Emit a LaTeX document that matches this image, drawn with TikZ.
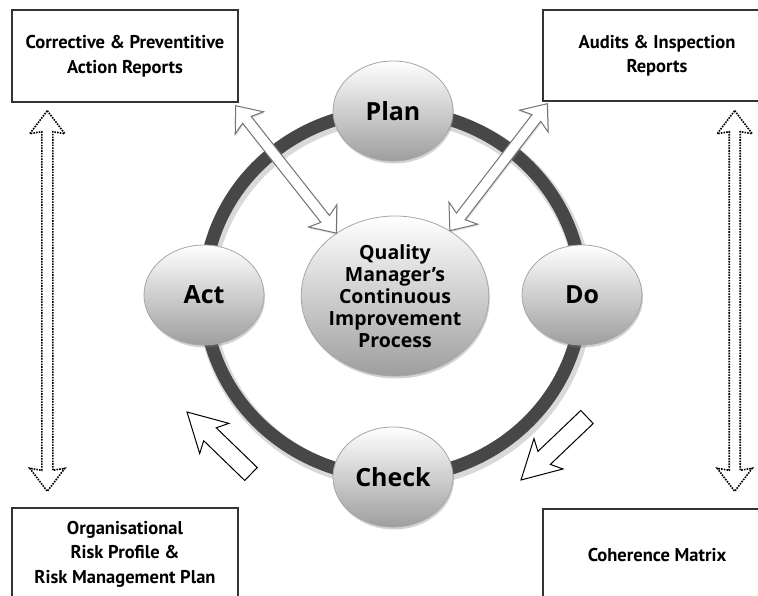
\documentclass[tikz,border=0pt]{standalone}
\usepackage{fontspec}
\setmainfont{Open Sans}
\newfontfamily\reportfont{PT Sans}
\usetikzlibrary{shapes.geometric, shadows, calc}

% hollow block arrows: style, end a, end b, shaft half, head half, head length, neck
\newcommand{\dblarrow}[7]{%
  \draw[#1] (#2) -- ($(#2)!#6!(#3)!#5!90:(#3)$) -- ($(#2)!#7!(#3)!#4!90:(#3)$)
    -- ($(#3)!#7!(#2)!#4!-90:(#2)$) -- ($(#3)!#6!(#2)!#5!-90:(#2)$) -- (#3)
    -- ($(#3)!#6!(#2)!#5!90:(#2)$) -- ($(#3)!#7!(#2)!#4!90:(#2)$)
    -- ($(#2)!#7!(#3)!#4!-90:(#3)$) -- ($(#2)!#6!(#3)!#5!-90:(#3)$) -- cycle;}
% style, tail, tip, shaft half, head half, head length, neck
\newcommand{\onearrow}[7]{%
  \draw[#1] (#3) -- ($(#3)!#6!(#2)!#5!90:(#2)$) -- ($(#3)!#7!(#2)!#4!90:(#2)$)
    -- ($(#2)!#4!-90:(#3)$) -- ($(#2)!#4!90:(#3)$)
    -- ($(#3)!#7!(#2)!#4!-90:(#2)$) -- ($(#3)!#6!(#2)!#5!-90:(#2)$) -- cycle;}

\begin{document}
\begin{tikzpicture}[x=1pt, y=-1pt,
    report/.style={draw=black!80, line width=1.4pt, fill=white, minimum width=226,
      minimum height=92, align=center, font=\reportfont\bfseries\fontsize{18.5}{24.5}\selectfont},
    stage/.style={ellipse, draw=black!35, line width=0.8pt, top color=white, bottom color=black!38,
      minimum width=120, minimum height=100, inner sep=0pt, font=\bfseries\fontsize{25}{27}\selectfont,
      drop shadow={opacity=0.35, shadow xshift=1pt, shadow yshift=-2.5pt}},
    link/.style={draw=black!55, fill=white, line width=1pt,
      drop shadow={opacity=0.25, shadow xshift=1pt, shadow yshift=-1.5pt}},
    flow/.style={draw=black, fill=white, line width=1pt},
    dotlink/.style={draw=black, line width=1.6pt, dash pattern=on 1.6pt off 1.1pt}]
  \clip (0,0) rectangle (758,596);
  \fill[white] (0,0) rectangle (758,596);

  % report boxes
  \node[report] (cpar) at (125,56) {Corrective \& Preventitive\\Action Reports};
  \node[report, minimum width=228, minimum height=91] (audit) at (657,55.5) {Audits \& Inspection\\Reports};
  \node[report] (risk) at (125,554) {Organisational\\Risk Profile \&\\Risk Management Plan};
  \node[report, minimum width=228] (coh) at (657,555) {Coherence Matrix};

  % cycle ring
  \draw[black!15, line width=17pt] (395,297) ellipse [x radius=189, y radius=183];
  \draw[black!72, line width=13pt] (393,294) ellipse [x radius=189, y radius=183];

  \node[stage] (plan) at (393,111) {Plan};
  \node[stage] (act) at (204,295) {Act};
  \node[stage] (do) at (582,295) {Do};
  \node[stage] (check) at (393,477) {Check};
  \node[stage, minimum width=186, minimum height=160, align=center,
    font=\bfseries\fontsize{19.5}{22}\selectfont] (qm) at (395,296)
    {Quality\\Manager’s\\Continuous\\Improvement\\Process};

  % links to the reports
  \coordinate (cparTip) at ($(cpar.south east)+(-3,3)$);
  \coordinate (auditTip) at ($(audit.south west)+(5,2)$);
  \dblarrow{link}{cparTip}{qm.133}{5.5pt}{18pt}{22pt}{18pt}
  \dblarrow{link}{auditTip}{qm.50}{5.5pt}{18pt}{22pt}{18pt}

  % direction of the cycle
  \coordinate (actTail) at (251,474);
  \coordinate (actTip) at (187,412);
  \coordinate (doTail) at (587,417);
  \coordinate (doTip) at (521,480);
  \onearrow{flow}{actTail}{actTip}{9pt}{21pt}{38pt}{32pt}
  \onearrow{flow}{doTail}{doTip}{9pt}{21pt}{38pt}{32pt}

  % dotted arrows between the reports
  \coordinate (l1) at ($(cpar.south west)+(36,8)$);
  \coordinate (l2) at ($(risk.north west)+(36,-16)$);
  \coordinate (r1) at ($(audit.south east)+(-37,9)$);
  \coordinate (r2) at ($(coh.north east)+(-37,-17)$);
  \dblarrow{dotlink}{l1}{l2}{5.5pt}{17.5pt}{23pt}{21pt}
  \dblarrow{dotlink}{r1}{r2}{5.5pt}{17.5pt}{23pt}{21pt}
\end{tikzpicture}
\end{document}
